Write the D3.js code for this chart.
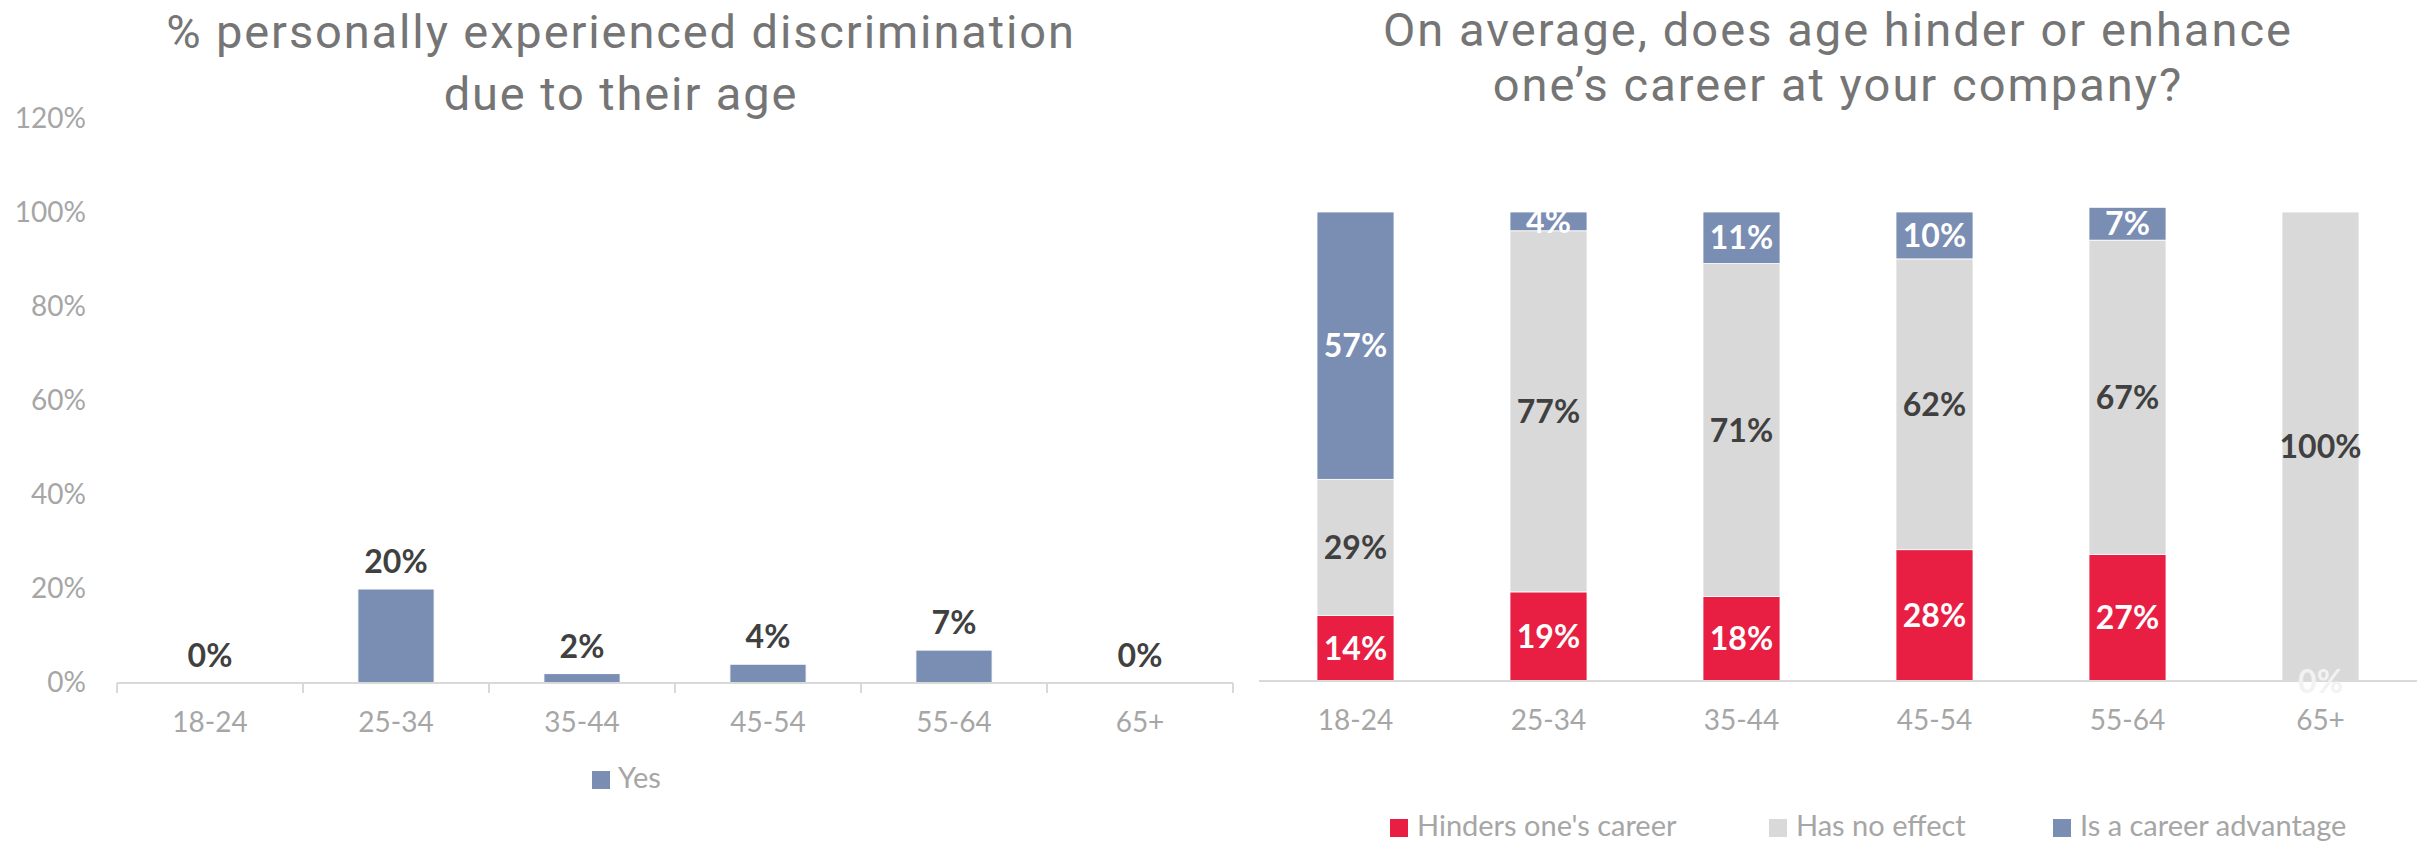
<!DOCTYPE html>
<html>
<head>
<meta charset="utf-8">
<script src="https://cdn.jsdelivr.net/npm/d3@7"></script>
<style>
  html, body { margin: 0; padding: 0; background: #ffffff; }
  svg { display: block; }
</style>
</head>
<body>
<svg id="chart" width="2433" height="841"></svg>
<script>
// ---------------- DATA ----------------
const categories = ["18-24", "25-34", "35-44", "45-54", "55-64", "65+"];
const discriminationYes = [0.00, 0.20, 0.02, 0.04, 0.07, 0.00];
const leftSeriesNames = ["Yes"];
const leftTicks = [0, 0.2, 0.4, 0.6, 0.8, 1.0, 1.2];

const hinders   = [0.14, 0.19, 0.18, 0.28, 0.27, 0.00];
const noEffect  = [0.29, 0.77, 0.71, 0.62, 0.67, 1.00];
const advantage = [0.57, 0.04, 0.11, 0.10, 0.07, 0.00];
const rightSeriesNames = ["Hinders one's career", "Has no effect", "Is a career advantage"];

const leftTitle  = ["% personally experienced discrimination", "due to their age"];
const rightTitle = ["On average, does age hinder or enhance", "one\u2019s career at your company?"];

// ---------------- STYLE ----------------
const COL_BLUE = "#7a8db3";
const COL_RED  = "#e81f43";
const COL_GRAY = "#d9d9d9";
const COL_TITLE = "#757575";
const COL_TICK = "#a6a6a6";
const COL_LABEL = "#404040";
const AXIS_COL = "#d9d9d9";
const TITLE_FONT = "Roboto, 'Open Sans', sans-serif";
const BODY_FONT = "Lato, 'Open Sans', sans-serif";

const svg = d3.select("#chart");
const pct = d3.format(".0%");

// title: font size 47, small letter-spacing so line 1 matches the reference width
function drawTitle(lines, cx, baselines, targetW) {
  const fs = 47;
  const g = svg.append("g").attr("font-family", TITLE_FONT).attr("fill", COL_TITLE)
    .attr("text-anchor", "middle").attr("font-size", fs);
  const texts = g.selectAll("text").data(lines).join("text")
    .attr("x", cx).attr("y", (d, i) => baselines[i]).text(d => d);
  const w = texts.nodes()[0].getComputedTextLength();
  const ls = Math.max(0, (targetW - w) / (lines[0].length - 1));
  texts.attr("letter-spacing", ls.toFixed(2) + "px");
}

// ================= LEFT CHART =================
const L = { x0: 117, x1: 1233, y0: 683 };
const yL = d3.scaleLinear().domain([0, 1.2]).range([L.y0, L.y0 - 1.2 * 470]);
const xL = d3.scaleBand().domain(categories).range([L.x0, L.x1])
  .paddingInner(0.59).paddingOuter(0.295);
const xLb = d3.scaleBand().domain(categories).range([L.x0, L.x1]);

drawTitle(leftTitle, 621, [48, 110], 908);

// y axis labels
const yAxisL = svg.append("g").attr("transform", `translate(86,0)`)
  .call(d3.axisLeft(yL).tickValues(leftTicks).tickFormat(pct).tickSize(0).tickPadding(0));
yAxisL.select(".domain").remove();
yAxisL.selectAll("text").attr("font-family", BODY_FONT).attr("font-size", 28).attr("fill", COL_TICK);

// bars
const leftData = categories.map((c, i) => ({ c, v: discriminationYes[i] }));
svg.append("g").selectAll("rect").data(leftData).join("rect")
  .attr("x", d => xL(d.c)).attr("width", xL.bandwidth())
  .attr("y", d => yL(d.v)).attr("height", d => yL(0) - yL(d.v))
  .attr("fill", COL_BLUE).attr("stroke", "#ffffff").attr("stroke-width", 1);

// axis line and boundary ticks
const axL = svg.append("g").attr("transform", `translate(0,${L.y0})`);
axL.append("line").attr("x1", L.x0).attr("x2", L.x1).attr("y1", 0).attr("y2", 0)
  .attr("stroke", AXIS_COL).attr("stroke-width", 2);
const bounds = categories.map(c => xLb(c)).concat([L.x1]);
axL.selectAll("line.tk").data(bounds).join("line").attr("class", "tk")
  .attr("x1", d => d).attr("x2", d => d).attr("y1", 0).attr("y2", 10)
  .attr("stroke", AXIS_COL).attr("stroke-width", 2);

const xAxisL = svg.append("g").attr("transform", `translate(0,${L.y0})`)
  .call(d3.axisBottom(xLb).tickSize(0).tickPadding(29));
xAxisL.select(".domain").remove();
xAxisL.selectAll("text").attr("font-family", BODY_FONT).attr("font-size", 28).attr("fill", COL_TICK);

// data labels
svg.append("g").selectAll("text").data(leftData).join("text")
  .attr("x", d => xL(d.c) + xL.bandwidth() / 2)
  .attr("y", d => yL(d.v) - 16)
  .attr("text-anchor", "middle").attr("font-family", BODY_FONT).attr("font-weight", 700)
  .attr("font-size", 32).attr("fill", COL_LABEL)
  .text(d => pct(d.v));

// legend
const legL = svg.append("g").attr("font-family", BODY_FONT).attr("font-size", 29).attr("fill", COL_TICK);
legL.selectAll("rect").data(leftSeriesNames).join("rect")
  .attr("x", 592).attr("y", 771).attr("width", 18).attr("height", 18).attr("fill", COL_BLUE);
legL.selectAll("text").data(leftSeriesNames).join("text")
  .attr("x", 618).attr("y", 788).text(d => d);

// ================= RIGHT CHART =================
const R = { x0: 1259, x1: 2417, y0: 681 };
const yR = d3.scaleLinear().domain([0, 1]).range([R.y0, R.y0 - 469]);
const xR = d3.scaleBand().domain(categories).range([R.x0, R.x1])
  .paddingInner(0.601).paddingOuter(0.3005);

drawTitle(rightTitle, 1838, [46, 101], 908);

const rows = categories.map((c, i) => ({
  c, h: hinders[i], n: noEffect[i], a: advantage[i]
}));
const keys = ["h", "n", "a"];
const colors = { h: COL_RED, n: COL_GRAY, a: COL_BLUE };
const labelColors = { h: "#ffffff", n: COL_LABEL, a: "#ffffff" };
const stacked = d3.stack().keys(keys)(rows);

const gBars = svg.append("g");
stacked.forEach(layer => {
  gBars.append("g").selectAll("rect").data(layer).join("rect")
    .attr("x", d => xR(d.data.c)).attr("width", xR.bandwidth())
    .attr("y", d => yR(d[1])).attr("height", d => yR(d[0]) - yR(d[1]))
    .attr("fill", colors[layer.key])
    .attr("stroke", "#ffffff").attr("stroke-width", 0.8);
});

// axis line
svg.append("line").attr("x1", R.x0).attr("x2", R.x1).attr("y1", R.y0).attr("y2", R.y0)
  .attr("stroke", AXIS_COL).attr("stroke-width", 2);

const xAxisR = svg.append("g").attr("transform", `translate(0,${R.y0})`)
  .call(d3.axisBottom(xR).tickSize(0).tickPadding(29));
xAxisR.select(".domain").remove();
xAxisR.selectAll("text").attr("font-family", BODY_FONT).attr("font-size", 28).attr("fill", COL_TICK);

// segment labels
const gLab = svg.append("g").attr("text-anchor", "middle").attr("font-family", BODY_FONT)
  .attr("font-weight", 700).attr("font-size", 32);
stacked.forEach(layer => {
  const vis = layer.filter(d => (d[1] - d[0]) > 0 || layer.key === "h");
  gLab.append("g").selectAll("text").data(vis).join("text")
    .attr("x", d => xR(d.data.c) + xR.bandwidth() / 2)
    .attr("y", d => (yR(d[0]) + yR(d[1])) / 2)
    .attr("dy", "0.36em")
    .attr("fill", d => (d[1] - d[0]) > 0 ? labelColors[layer.key] : "#f2f2f2")
    .text(d => pct(d.data[layer.key]));
});

// legend
const legR = svg.append("g").attr("font-family", BODY_FONT).attr("font-size", 29).attr("fill", COL_TICK);
const legColors = [COL_RED, COL_GRAY, COL_BLUE];
const legX = [1390, 1769, 2053];
rightSeriesNames.forEach((name, i) => {
  legR.append("rect").attr("x", legX[i]).attr("y", 819).attr("width", 18).attr("height", 18)
    .attr("fill", legColors[i]);
  legR.append("text").attr("x", legX[i] + 27).attr("y", 836).text(name);
});
</script>
</body>
</html>
